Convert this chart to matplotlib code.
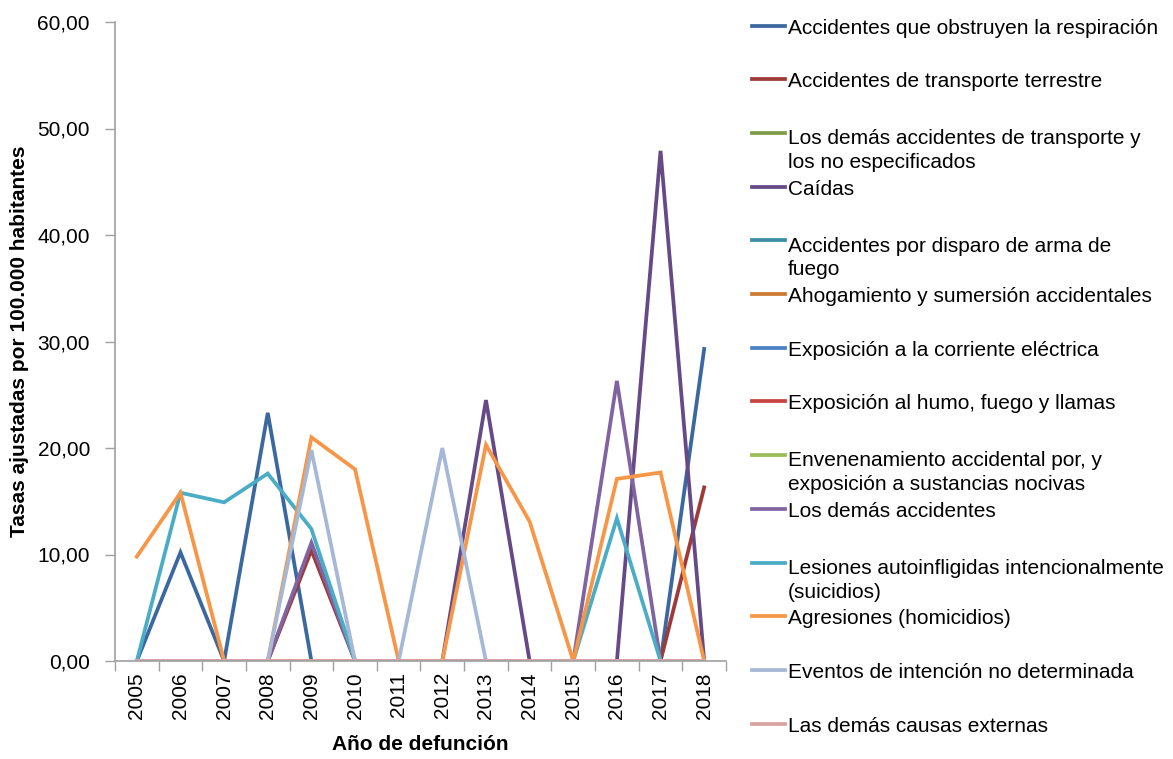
import matplotlib
matplotlib.use("Agg")
import matplotlib.pyplot as plt
from matplotlib.lines import Line2D
from matplotlib.ticker import FuncFormatter
import numpy as np

plt.rcParams['font.family'] = ['Liberation Sans Narrow', 'Liberation Sans', 'DejaVu Sans']

# Data
years = ['2005', '2006', '2007', '2008', '2009', '2010', '2011',
         '2012', '2013', '2014', '2015', '2016', '2017', '2018']

labels = [
    "Accidentes que obstruyen la respiración",
    "Accidentes de transporte terrestre",
    "Los demás accidentes de transporte y\nlos no especificados",
    "Caídas",
    "Accidentes por disparo de arma de\nfuego",
    "Ahogamiento y sumersión accidentales",
    "Exposición a la corriente eléctrica",
    "Exposición al humo, fuego y llamas",
    "Envenenamiento accidental por, y\nexposición a sustancias nocivas",
    "Los demás accidentes",
    "Lesiones autoinfligidas intencionalmente\n(suicidios)",
    "Agresiones (homicidios)",
    "Eventos de intención no determinada",
    "Las demás causas externas",
]

obstruccion   = [0, 10.2, 0, 23.3, 0, 0, 0, 0, 0, 0, 0, 0, 0, 29.3]
transporte    = [0, 0, 0, 0, 10.4, 0, 0, 0, 0, 0, 0, 0, 0, 16.3]
otros_transp  = [0] * 14
caidas        = [0, 0, 0, 0, 0, 0, 0, 0, 24.5, 0, 0, 0, 47.9, 0]
disparo       = [0] * 14
ahogamiento   = [0] * 14
electrica     = [0] * 14
humo          = [0] * 14
envenenam     = [0] * 14
demas_acc     = [0, 0, 0, 0, 11.1, 0, 0, 0, 0, 0, 0, 26.3, 0, 0]
suicidios     = [0, 15.8, 14.9, 17.6, 12.4, 0, 0, 0, 0, 0, 0, 13.4, 0, 0]
homicidios    = [9.8, 15.8, 0, 0, 21.0, 18.0, 0, 0, 20.3, 13.1, 0, 17.1, 17.7, 0]
no_determ     = [0, 0, 0, 0, 19.8, 0, 0, 20.0, 0, 0, 0, 0, 0, 0]
demas_causas  = [0] * 14

series = [obstruccion, transporte, otros_transp, caidas, disparo, ahogamiento,
          electrica, humo, envenenam, demas_acc, suicidios, homicidios,
          no_determ, demas_causas]

colors = ['#3C68A0', '#9E3A37', '#7F9D49', '#654A87', '#3B8DA5', '#CC7A33',
          '#4A80C4', '#C8423F', '#9BBB59', '#8064A2', '#4BACC6', '#F79646',
          '#A5B8D6', '#D9A3A3']

fs = 15
W, H = 1173, 759
fig = plt.figure(figsize=(W / 100, H / 100), dpi=100)
ax = fig.add_axes([115 / W, 1 - 661 / H, (726 - 115) / W, (661 - 22) / H])

x = np.arange(len(years))
for vals, c in zip(series, colors):
    ax.plot(x, vals, color=c, linewidth=2.7, solid_joinstyle='miter')

ax.set_xlim(-0.5, len(years) - 0.5)
ax.set_ylim(0, 60)
ax.set_yticks(np.arange(0, 61, 10))
ax.yaxis.set_major_formatter(FuncFormatter(lambda v, p: f"{v:.2f}".replace('.', ',')))
ax.set_xticks(x)
ax.set_xticklabels(years, rotation=90, fontsize=fs)
ax.set_xticks(np.arange(-0.5, len(years)), minor=True)
ax.tick_params(axis='x', which='major', length=0, pad=8)
ax.tick_params(axis='x', which='minor', length=7, color='#A0A0A0', width=1)
ax.tick_params(axis='y', length=7, color='#A0A0A0', width=1, labelsize=fs, pad=11)

for side in ['top', 'right']:
    ax.spines[side].set_visible(False)
for side in ['left', 'bottom']:
    ax.spines[side].set_color('#A0A0A0')
    ax.spines[side].set_linewidth(1.2)

ax.set_ylabel("Tasas ajustadas por 100.000 habitantes", fontsize=fs, fontweight='bold', labelpad=6)
ax.set_xlabel("Año de defunción", fontsize=fs, fontweight='bold', labelpad=12)

# legend drawn Excel-style
y0, step, line_h = 25.5, 53.7, 27
for i, (lab, c) in enumerate(zip(labels, colors)):
    yc = y0 + i * step
    fig.add_artist(Line2D([752 / W, 785 / W], [1 - yc / H, 1 - yc / H],
                          color=c, linewidth=2.7, transform=fig.transFigure))
    nlines = lab.count("\n") + 1
    base = yc + 8 + (nlines - 1) * line_h
    fig.text(788 / W, 1 - base / H, lab, fontsize=fs, va='baseline',
             ha='left', linespacing=1.32)

fig.savefig("out.png", dpi=100)
